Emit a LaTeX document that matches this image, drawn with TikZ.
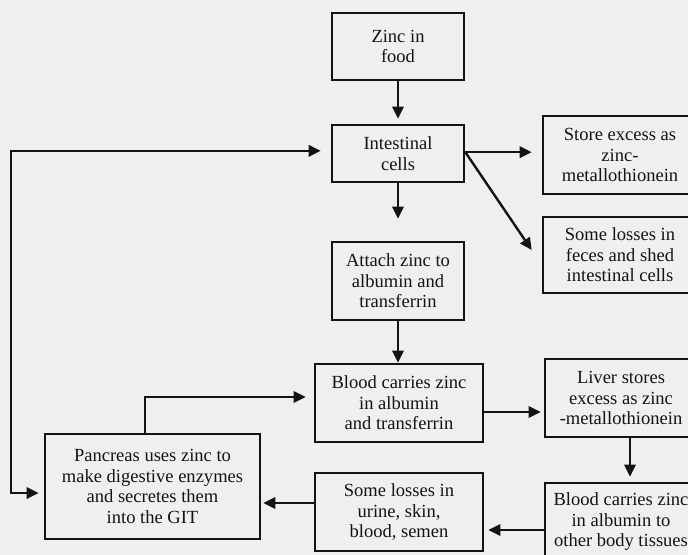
\documentclass[tikz,border=0pt]{standalone}
\usepackage{fontspec}
\setmainfont{Liberation Serif}
\usepackage{tikz}
\usepackage{xcolor}
\definecolor{PaperGray}{HTML}{EFEFEF}
\definecolor{InkBlack}{HTML}{141414}
\usetikzlibrary{arrows.meta}

\begin{document}
\begin{tikzpicture}[x=0.75pt, y=-0.75pt, align=center,
    box/.style={draw=InkBlack, line width=2pt, inner sep=2pt,
        font=\fontsize{13.9}{15.4}\selectfont, text=InkBlack},
    flow/.style={draw=InkBlack, line width=1.8pt, -{Triangle[length=9pt, width=8.5pt]}}]
    % Paper
    \fill[PaperGray] (0,0) rectangle (688,555);
    \useasboundingbox (0,0) rectangle (688,555);

    % Components
    \node (food) at (398,46.5) [box, minimum width=99pt, minimum height=50.25pt] {Zinc in\\food};
    \node (intestinal) at (398,153.5) [box, minimum width=99pt, minimum height=42.75pt] {Intestinal\\cells};
    \node (attach) at (398,281) [box, minimum width=99pt, minimum height=58.5pt] {Attach zinc to\\albumin and\\transferrin};
    \node (store) at (620,155) [box, minimum width=115.5pt, minimum height=58.5pt] {Store excess as\\zinc-\\metallothionein};
    \node (feces) at (620,255) [box, minimum width=115.5pt, minimum height=57pt] {Some losses in\\feces and shed\\intestinal cells};
    \node (blood) at (399,403) [box, minimum width=126pt, minimum height=58.5pt] {Blood carries zinc\\in albumin\\and transferrin};
    \node (liver) at (621,398) [box, minimum width=114pt, minimum height=58.5pt] {Liver stores\\excess as zinc\\-metallothionein};
    \node (tissues) at (621,522) [box, minimum width=114pt, minimum height=58.5pt] {Blood carries zinc\\in albumin to\\other body tissues};
    \node (urine) at (399,512) [box, minimum width=126pt, minimum height=58.5pt] {Some losses in\\urine, skin,\\blood, semen};
    \node (pancreas) at (152.5,486.5) [box, minimum width=161.25pt, minimum height=78.75pt] {Pancreas uses zinc to\\make digestive enzymes\\and secretes them\\into the GIT};

    % Absorption
    \draw[flow, shorten >=3.75pt] (food) -- (intestinal);
    \draw[flow, shorten >=16.5pt] (intestinal) -- (attach);
    \draw[flow] (attach.south) -- (attach.south |- blood.north);
    \draw[flow, shorten >=7.5pt] ([yshift=1pt]intestinal.east) -- ([yshift=1pt]intestinal.east -| store.west);
    \draw[flow] ([yshift=1pt]intestinal.east) -- ([xshift=-7.5pt, yshift=3.75pt]feces.west);

    % Circulation
    \draw[flow, shorten >=2.25pt] ([yshift=-6.75pt]blood.east) -- ([yshift=-6.75pt]blood.east -| liver.west);
    \draw[flow, shorten >=3.75pt] ([xshift=6.75pt]liver.south) -- ([xshift=6.75pt]liver.south |- tissues.north);
    \draw[flow, shorten >=3pt] ([yshift=-6pt]tissues.west) -- ([yshift=-6pt]tissues.west -| urine.east);
    \draw[flow, shorten >=1.5pt] ([yshift=6.75pt]urine.west) -- ([yshift=6.75pt]urine.west -| pancreas.east);
    \draw[flow, shorten >=6pt] ([xshift=-5.6pt]pancreas.north) |- ([yshift=4.5pt]blood.west);

    % Back to the gut
    \coordinate (gutline) at (11,0);
    \draw[flow, {Triangle[length=9pt, width=8.5pt]}-{Triangle[length=9pt, width=8.5pt]}, shorten <=7.5pt, shorten >=3.75pt]
        ([yshift=2pt]intestinal.west) -- ([yshift=2pt]intestinal.west -| gutline) |- ([yshift=-4.9pt]pancreas.west);
\end{tikzpicture}
\end{document}
